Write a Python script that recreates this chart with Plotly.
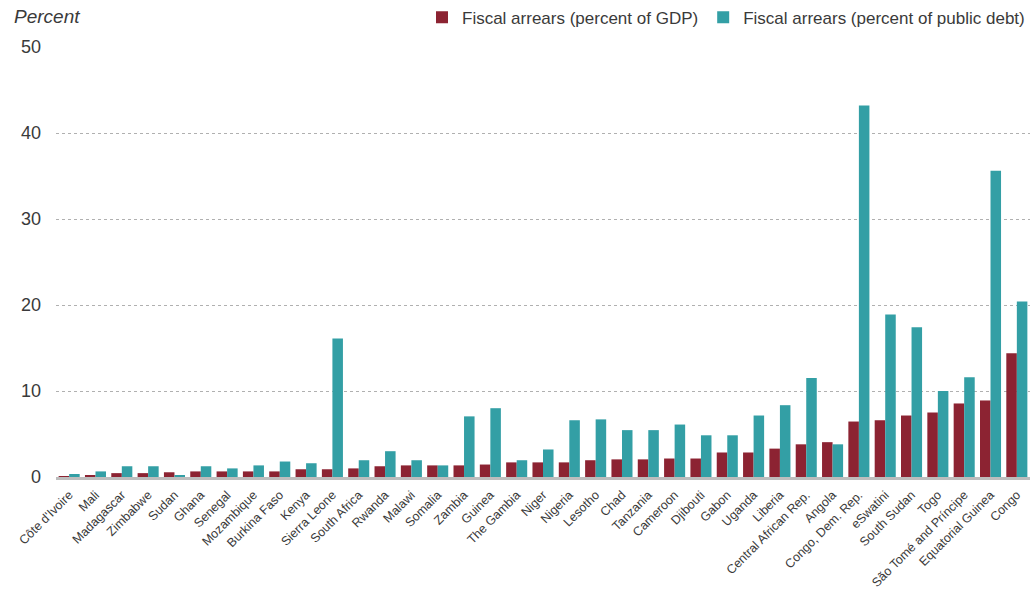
import plotly.graph_objects as go

countries = ["Côte d'Ivoire", "Mali", "Madagascar", "Zimbabwe", "Sudan", "Ghana", "Senegal",
             "Mozambique", "Burkina Faso", "Kenya", "Sierra Leone", "South Africa", "Rwanda",
             "Malawi", "Somalia", "Zambia", "Guinea", "The Gambia", "Niger", "Nigeria", "Lesotho",
             "Chad", "Tanzania", "Cameroon", "Djibouti", "Gabon", "Uganda", "Liberia",
             "Central African Rep.", "Angola", "Congo, Dem. Rep.", "eSwatini", "South Sudan",
             "Togo", "São Tomé and Príncipe", "Equatorial Guinea", "Congo"]

arrears_gdp = [0.1, 0.2, 0.45, 0.45, 0.55, 0.65, 0.65, 0.65, 0.65, 0.9, 0.9, 1.0, 1.25,
               1.35, 1.35, 1.35, 1.45, 1.7, 1.7, 1.7, 1.95, 2.05, 2.05, 2.15, 2.15, 2.85,
               2.85, 3.3, 3.8, 4.05, 6.45, 6.6, 7.15, 7.5, 8.55, 8.9, 14.4]

arrears_debt = [0.35, 0.65, 1.25, 1.25, 0.2, 1.25, 1.0, 1.35, 1.8, 1.6, 16.1, 1.95, 3.0,
                1.95, 1.35, 7.05, 8.0, 1.95, 3.2, 6.6, 6.7, 5.45, 5.45, 6.1, 4.85, 4.85,
                7.15, 8.35, 11.5, 3.8, 43.2, 18.9, 17.4, 10.0, 11.6, 35.6, 20.4]

y_ticks = [0, 10, 20, 30, 40, 50]

RED = "#8C2332"
TEAL = "#339FA5"
TEXT = "#3a3a3a"
FONT = "Liberation Sans, Arial, sans-serif"

fig = go.Figure()
fig.add_trace(go.Bar(x=countries, y=arrears_gdp, name="Fiscal arrears (percent of GDP)",
                     marker=dict(color=RED, line=dict(width=0))))
fig.add_trace(go.Bar(x=countries, y=arrears_debt, name="Fiscal arrears (percent of public debt)",
                     marker=dict(color=TEAL, line=dict(width=0))))

fig.update_layout(
    width=1034, height=594,
    margin=dict(l=56, r=4, t=47, b=117),
    paper_bgcolor="white", plot_bgcolor="white",
    barmode="group", bargap=0.2, bargroupgap=0.0,
    font=dict(family=FONT, color=TEXT),
    showlegend=True,
    legend=dict(orientation="h", x=1.0, xanchor="right", yref="container", y=0.97,
                yanchor="middle", font=dict(size=17, color=TEXT), traceorder="normal",
                bgcolor="rgba(0,0,0,0)"),
    annotations=[dict(text="<i>Percent</i>", xref="paper", yref="paper",
                      x=-0.045, y=1.07, xanchor="left", yanchor="middle",
                      showarrow=False, font=dict(size=19, color=TEXT, family=FONT))],
)

fig.update_xaxes(
    type="category", tickangle=-45, automargin=False,
    tickfont=dict(size=12.5, color=TEXT, family=FONT), ticklabelstandoff=3,
    showline=True, linecolor="#bdbdbd", linewidth=2.5, ticks="", showgrid=False,
    range=[-0.5, len(countries) - 0.5],
)
fig.update_yaxes(
    range=[0, 50], tickvals=y_ticks, ticktext=[str(v) for v in y_ticks],
    tickfont=dict(size=18, color=TEXT), showgrid=True, gridcolor="#b0b0b0",
    griddash="3px,3px", gridwidth=1, zeroline=False, showline=False, ticks="",
    ticklabelstandoff=14, automargin=False,
)

fig.write_html("out.html", config={"displayModeBar": False},
               post_script="document.body.style.margin='0px';")
